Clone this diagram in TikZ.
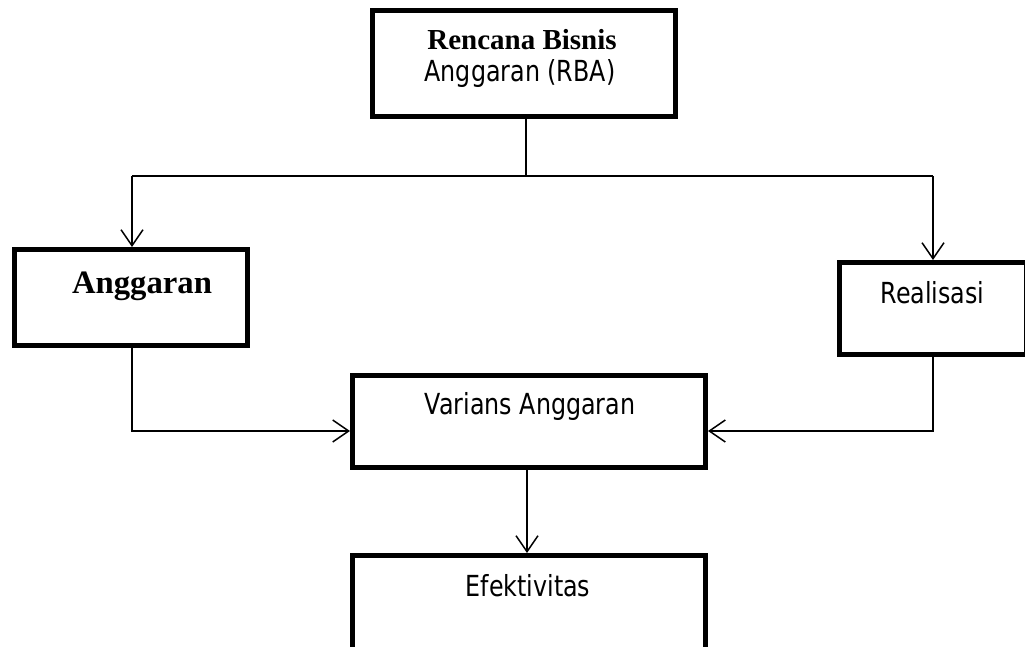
\documentclass[tikz,border=0pt]{standalone}
\usepackage{fontspec}
\setmainfont{Liberation Serif}
\newfontfamily\sansf[FakeStretch=0.82]{DejaVu Sans}
\usetikzlibrary{arrows.meta,calc}
\tikzset{
  box/.style={draw=black, line width=5pt, rectangle, inner sep=0pt, fill=white},
  conn/.style={draw=black, line width=1.5pt},
  arr/.style={conn, -{Straight Barb[length=16pt,width=22pt,line width=1.5pt]}},
  sanstxt/.style={anchor=base, inner sep=0pt, font=\sansf\fontsize{29pt}{32pt}\selectfont},
  seriftxt/.style={anchor=base, inner sep=0pt, font=\bfseries\fontsize{29pt}{32pt}\selectfont},
}
\begin{document}
\begin{tikzpicture}[x=1pt, y=-1pt]
\useasboundingbox (0,0) rectangle (1025,647);
% boxes
\node[box, minimum width=303pt, minimum height=106pt] (rba) at (524,63.5) {};
\node[box, minimum width=233pt, minimum height=96pt] (ang) at (131,297.5) {};
\node[box, minimum width=187pt, minimum height=92pt] (real) at (933,308.5) {};
\node[box, minimum width=353pt, minimum height=92pt] (var) at (529,421.5) {};
\node[box, minimum width=353pt, minimum height=130pt] (efk) at (529,620.5) {};
% texts
\node[seriftxt] (t1) at (522,50) {Rencana Bisnis};
\node[sanstxt] (t2) at (520,82) {Anggaran (RBA)};
\node[seriftxt, font=\bfseries\fontsize{32.7pt}{34pt}\selectfont] (t3) at (142,293) {Anggaran};
\node[sanstxt] (t4) at (932.5,303) {Realisasi};
\node[sanstxt] (t5) at (530,414) {Varians Anggaran};
\node[sanstxt] (t6) at (528,596) {Efektivitas};
% connectors
\coordinate (split) at (526,176);
\coordinate (lj) at (132,176);
\coordinate (rj) at (933,176);
\draw[conn] (rba.south -| split) -- (split);
\draw[conn] (lj) -- (rj);
\draw[arr] (lj) -- (ang.north -| lj);
\draw[arr] (rj) -- (real.north -| rj);
\coordinate (vl) at ($(var.west)+(0,9.5)$);
\coordinate (vr) at ($(var.east)+(0,9.5)$);
\draw[arr] (ang.south -| lj) |- (vl);
\draw[arr] (real.south -| rj) |- (vr);
\draw[arr] (var.south -| 527,0) -- (efk.north -| 527,0);
\end{tikzpicture}
\end{document}
